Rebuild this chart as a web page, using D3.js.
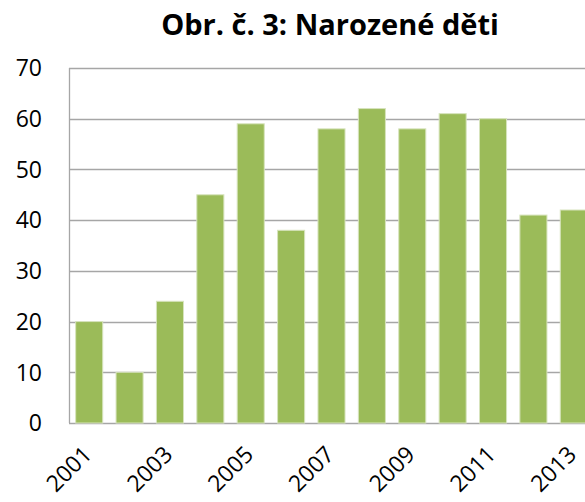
<!DOCTYPE html>
<html>
<head>
<meta charset="utf-8">
<script src="https://cdn.jsdelivr.net/npm/d3@7"></script>
<style>
  body { margin: 0; background: #fff; }
  text { font-family: "Open Sans", sans-serif; fill: #000; }
</style>
</head>
<body>
<script>
var w = 585, h = 502;

// data
var years = ["2001","2002","2003","2004","2005","2006","2007","2008","2009","2010","2011","2012","2013"];
var births = [20, 10, 24, 45, 59, 38, 58, 62, 58, 61, 60, 41, 42];
var yTicks = [0, 10, 20, 30, 40, 50, 60, 70];
var xLabels = ["2001","2003","2005","2007","2009","2011","2013"];

var plotLeft = 69, plotTop = 68, plotBottom = 423, plotRight = 594;

var svg = d3.select("body")
            .append("svg")
            .attr("width", w)
            .attr("height", h);

var x = d3.scaleBand().domain(years).range([plotLeft, plotRight]).paddingInner(0.33).paddingOuter(0.165);
var y = d3.scaleLinear().domain([0, 70]).range([plotBottom, plotTop]);

// gridlines
svg.selectAll("line.grid")
  .data(yTicks)
  .enter()
  .append("line")
  .attr("class", "grid")
  .attr("x1", plotLeft)
  .attr("x2", w)
  .attr("y1", function(d){ return Math.round(y(d)) + 0.5; })
  .attr("y2", function(d){ return Math.round(y(d)) + 0.5; })
  .attr("stroke", "#a6a6a6")
  .attr("stroke-width", 1.3);

svg.append("line")
  .attr("x1", plotLeft + 0.5).attr("x2", plotLeft + 0.5)
  .attr("y1", y(70)).attr("y2", y(0))
  .attr("stroke", "#a6a6a6")
  .attr("stroke-width", 1.3);

// bars
svg.selectAll("rect")
  .data(births)
  .enter()
  .append("rect")
  .attr("x", function(d, i){ return x(years[i]); })
  .attr("y", function(d){ return y(d); })
  .attr("width", x.bandwidth())
  .attr("height", function(d){ return y(0) - y(d); })
  .attr("fill", "#9bbb59")
  .attr("stroke", "#d7e4bd")
  .attr("stroke-width", 1);

// y labels
svg.selectAll("text.ylab")
  .data(yTicks)
  .enter()
  .append("text")
  .attr("class", "ylab")
  .attr("x", 42)
  .attr("y", function(d){ return y(d); })
  .attr("dy", "0.36em")
  .attr("text-anchor", "end")
  .attr("font-size", "23px")
  .text(function(d){ return d; });

// x labels
svg.selectAll("text.xlab")
  .data(xLabels)
  .enter()
  .append("text")
  .attr("class", "xlab")
  .attr("text-anchor", "end")
  .attr("font-size", "23px")
  .attr("transform", function(d){
    var cx = x(d) + x.bandwidth() / 2 + 4;
    return "translate(" + cx + ",456) rotate(-45)";
  })
  .text(function(d){ return d; });

// title
svg.append("text")
  .attr("x", 330)
  .attr("y", 35)
  .attr("text-anchor", "middle")
  .attr("font-size", "29px")
  .attr("font-weight", "bold")
  .text("Obr. č. 3: Narozené děti");
</script>
</body>
</html>
